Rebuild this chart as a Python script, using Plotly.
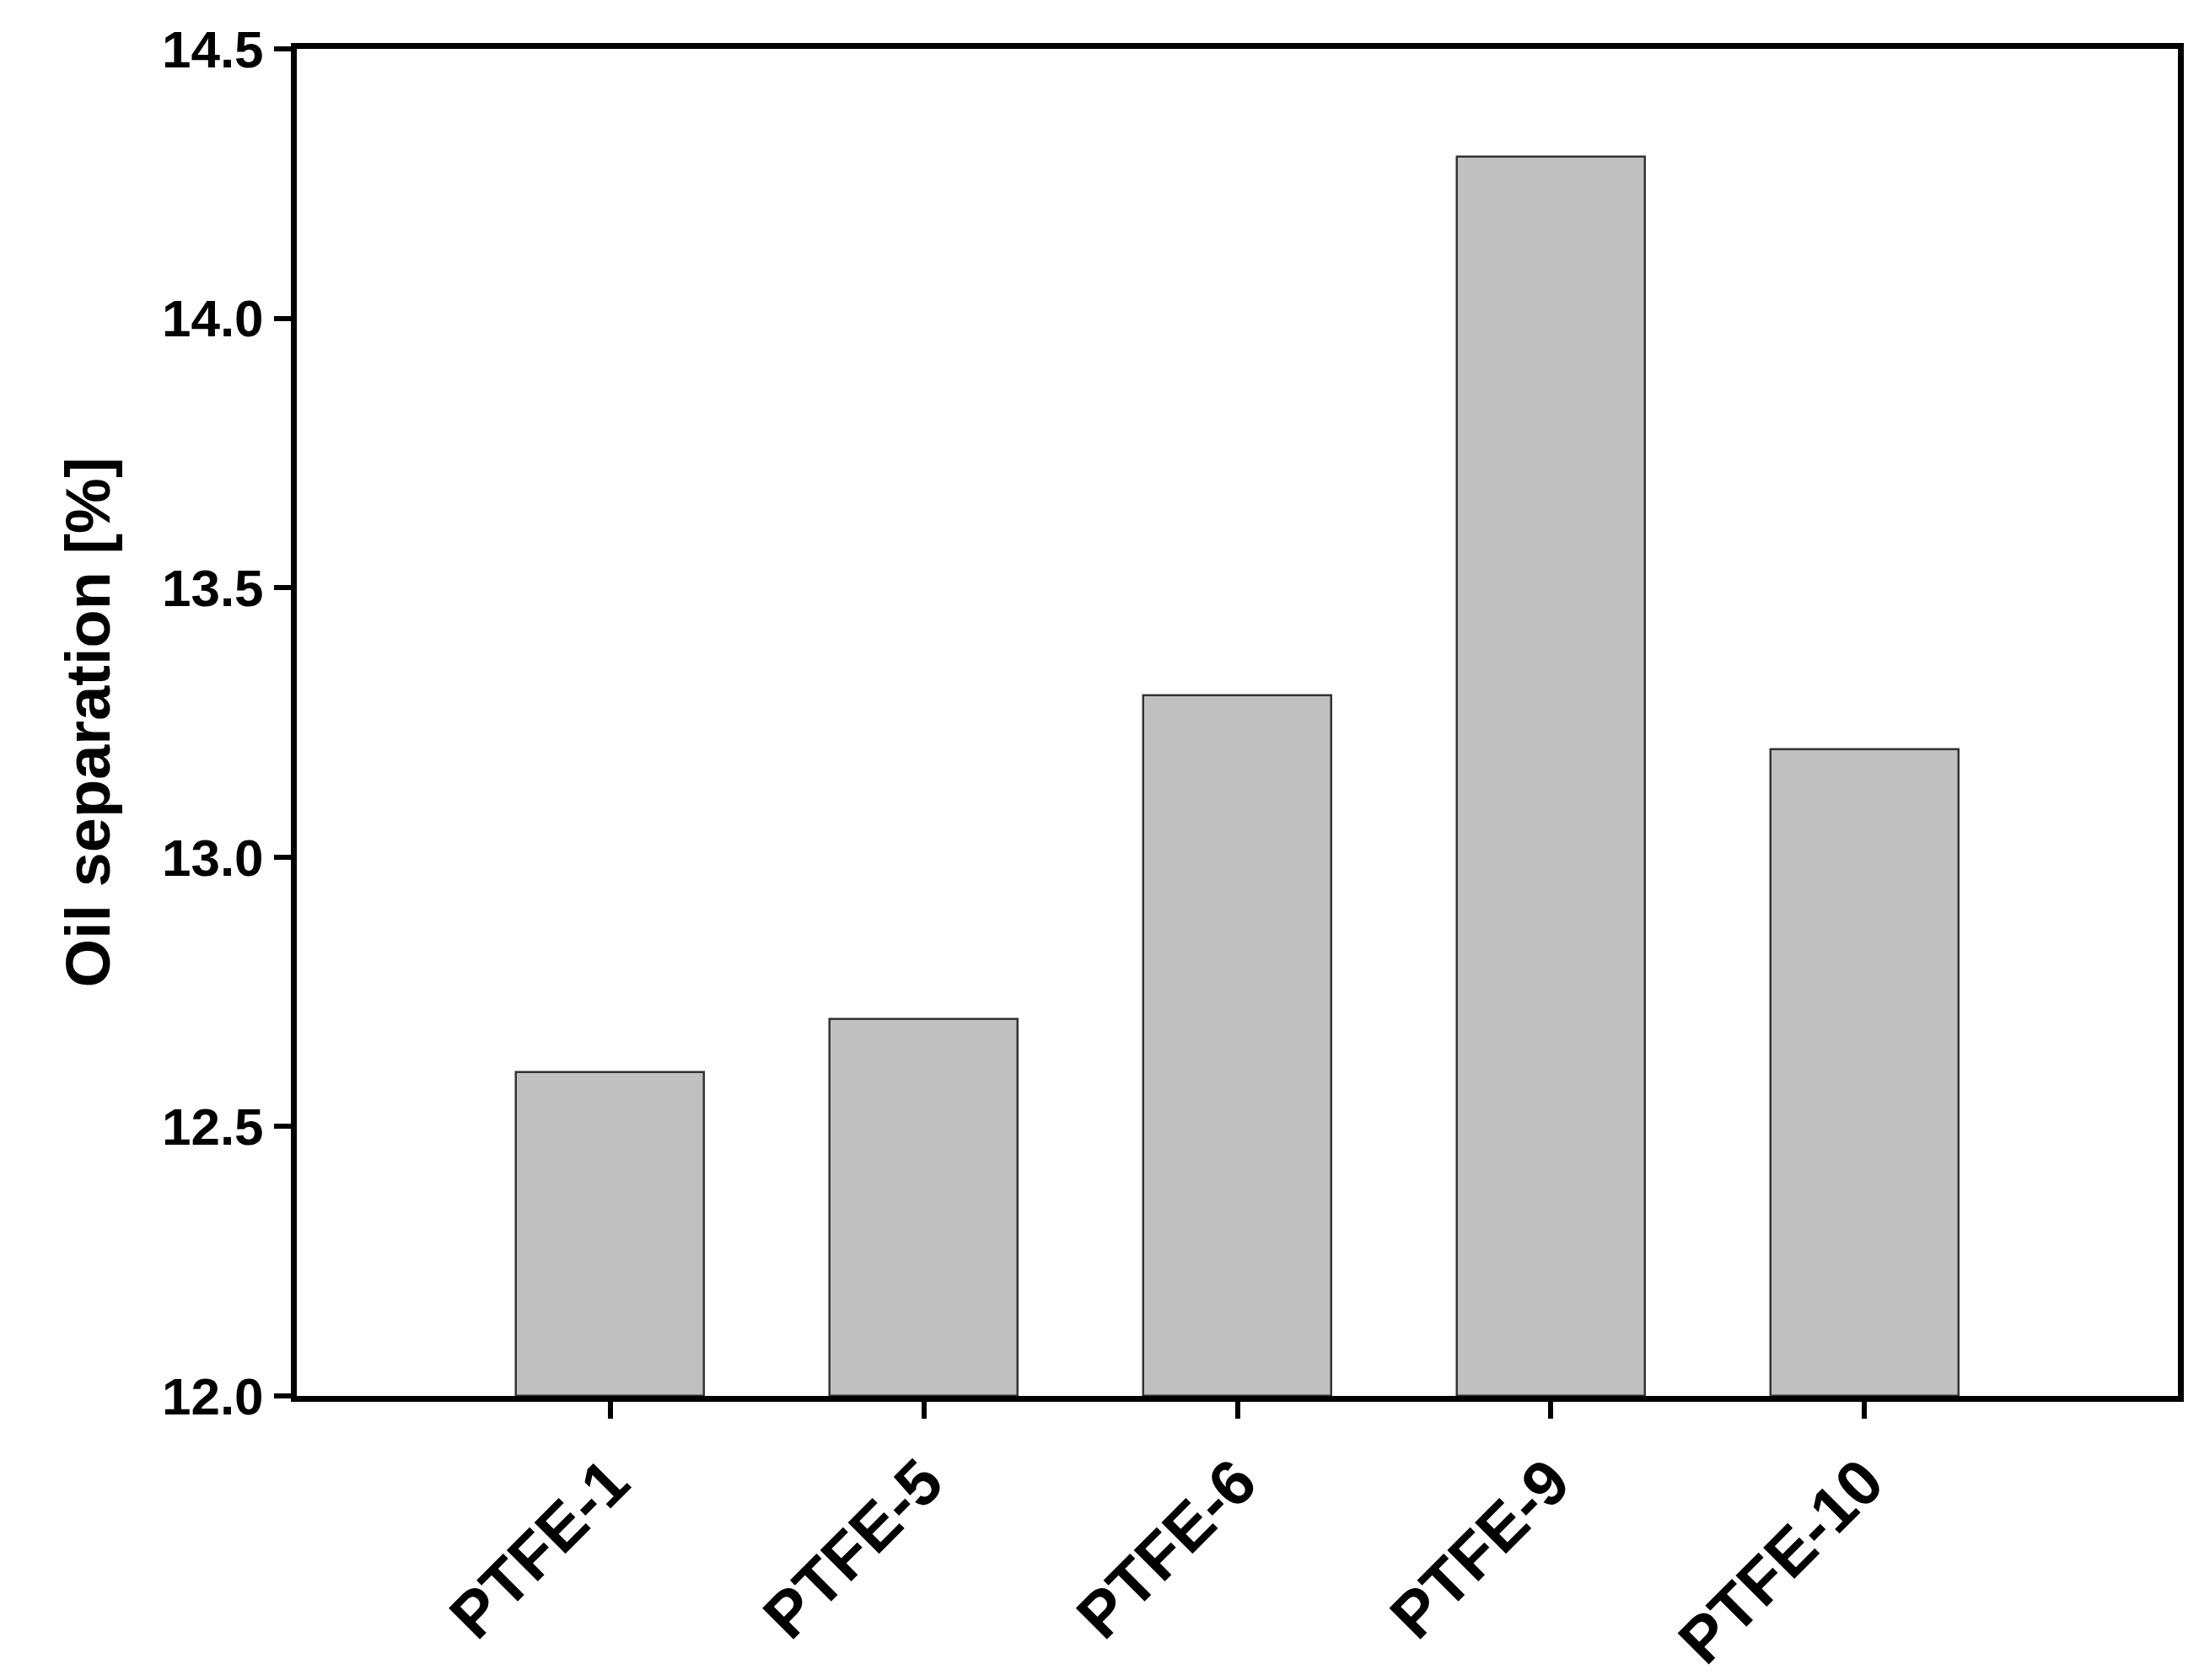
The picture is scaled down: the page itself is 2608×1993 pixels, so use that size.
import plotly.graph_objects as go

samples = ["PTFE-1", "PTFE-5", "PTFE-6", "PTFE-9", "PTFE-10"]
oil_sep = [12.6, 12.7, 13.3, 14.3, 13.2]
y_ticks = [12.0, 12.5, 13.0, 13.5, 14.0, 14.5]

pos = list(range(len(samples)))
fam = "Liberation Sans, Arial"
yfont = dict(family=fam, size=62, color="black")
xfont = dict(family=fam, size=76, color="black")
tfont = dict(family=fam, size=74, color="black")

fig = go.Figure(go.Bar(
    x=pos, y=[v - 12.0 for v in oil_sep], base=12.0, width=0.6,
    marker=dict(color="#c0c0c0", line=dict(color="#333", width=2.5)),
))
fig.update_layout(
    width=2608, height=1993, template="plotly_white",
    paper_bgcolor="white", plot_bgcolor="white",
    margin=dict(l=344, r=33, t=50, b=332), showlegend=False,
    bargap=0,
)
fig.update_xaxes(
    range=[-1, 5], tickvals=pos, ticktext=[f"<b>{s}</b>" for s in samples],
    tickangle=-45, ticks="outside", ticklen=20, tickwidth=6, tickcolor="black",
    showline=True, linewidth=7, linecolor="black", mirror=True, showgrid=False,
    zeroline=False, tickfont=xfont,
)
fig.update_yaxes(
    range=[12.0, 14.5], tickvals=y_ticks,
    ticktext=[f"<b>{t:.1f}</b>" for t in y_ticks],
    ticks="outside", ticklen=20, tickwidth=6, tickcolor="black",
    showline=True, linewidth=7, linecolor="black", mirror=True, showgrid=False,
    zeroline=False, tickfont=yfont,
    title=dict(text="<b>Oil separation [%]</b>", font=tfont, standoff=40),
)
fig.write_html("out.html")
